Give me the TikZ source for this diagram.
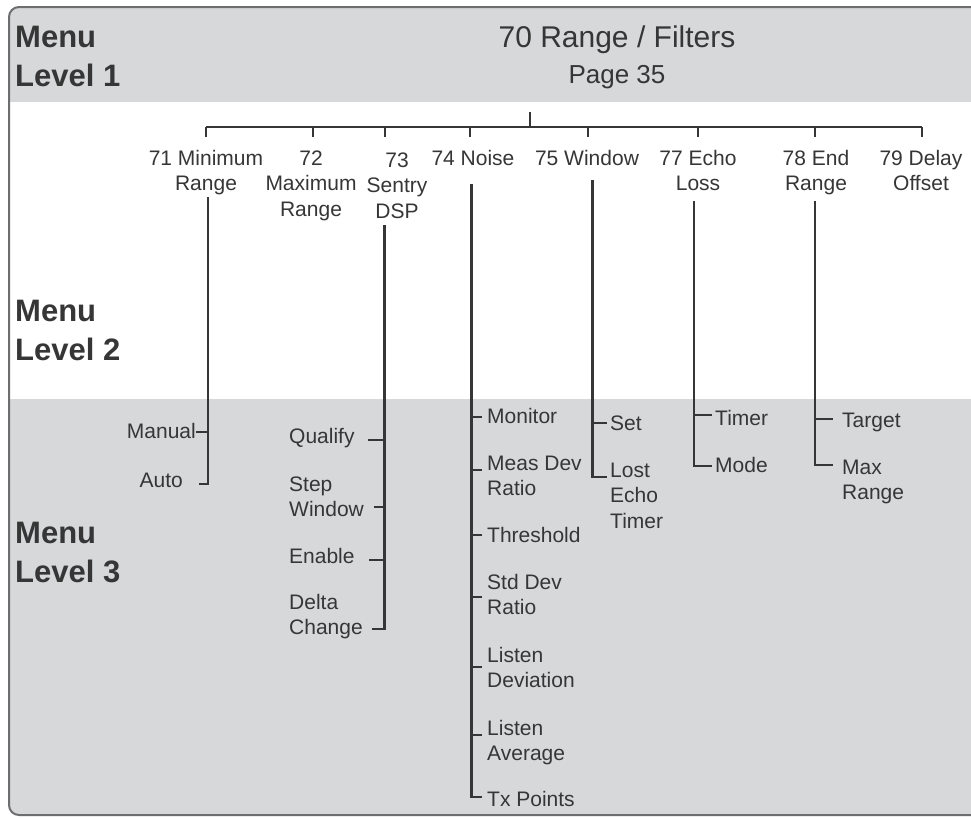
\documentclass[tikz,border=0pt]{standalone}
\usepackage{fontspec}
\setmainfont{Liberation Sans}
\definecolor{band}{HTML}{D7D8DA}
\definecolor{ink}{HTML}{363636}
\definecolor{framec}{HTML}{6E6E70}
\begin{document}
\begin{tikzpicture}[x=1pt,y=-1pt,
  lvl/.style={font=\fontsize{31}{39}\selectfont\bfseries, text=ink, anchor=base west, inner sep=0pt, align=left},
  lab/.style={font=\fontsize{21}{25.5}\selectfont, text=ink, inner sep=0pt, align=center, anchor=base},
  leaf/.style={font=\fontsize{21}{25.5}\selectfont, text=ink, inner sep=0pt, align=left, anchor=base west},
  leafr/.style={leaf, anchor=base east, align=right},
  wire/.style={draw=ink, line width=2.4pt},
]
\useasboundingbox (0,0) rectangle (971,817);
\clip (0,0) rectangle (971,817);
\fill[white] (0,0) rectangle (971,817);
% bands
\begin{scope}
  \clip[rounded corners=10pt] (9,7) rectangle (995,815);
  \fill[band] (9,7) rectangle (995,102);
  \fill[band] (9,399) rectangle (995,815);
\end{scope}
\draw[framec, line width=2pt, rounded corners=10pt] (9,7) rectangle (995,815);

% level labels (base = last line)
\node[lvl] (m1) at (15,86) {Menu\\Level 1};
\node[lvl] (m2) at (15,360) {Menu\\Level 2};
\node[lvl] (m3) at (15,582) {Menu\\Level 3};

% title
\node[text=ink, inner sep=0pt, anchor=base, font=\fontsize{30}{36}\selectfont] (title) at (617,47) {70 Range / Filters};
\node[text=ink, inner sep=0pt, anchor=base, font=\fontsize{26}{30}\selectfont] (page) at (617,83) {Page 35};

% top tree
\coordinate (root) at (530,112);
\coordinate (bar) at (530,127);
\foreach \n/\x in {a/206,b/313,c/385,d/470,e/588,f/698,g/815,h/922}{
  \coordinate (d\n) at (\x,137);
}
\draw[wire] (root) -- (bar);
\draw[wire] (da |- bar) -- (dh |- bar);
\foreach \n in {a,b,c,d,e,f,g,h}{ \draw[wire] (d\n |- bar) -- (d\n); }

% level 2 labels (base = last line)
\node[lab] (n71) at (206,190.5) {71 Minimum\\Range};
\node[lab] (n72) at (311,216) {72\\Maximum\\Range};
\node[lab] (n73) at (397,218) {73\\Sentry\\DSP};
\node[lab] (n74) at (473,165) {74 Noise};
\node[lab] (n75) at (587,165) {75 Window};
\node[lab] (n77) at (698,190.5) {77 Echo\\Loss};
\node[lab] (n78) at (816,190.5) {78 End\\Range};
\node[lab] (n79) at (921,190.5) {79 Delay\\Offset};

% vertical stems
\coordinate (s71) at (208,197);
\coordinate (s73) at (384.5,225);
\coordinate (s74) at (471.5,184);
\coordinate (s75) at (592.5,180);
\coordinate (s77) at (694,201);
\coordinate (s78) at (815,201);

% level 3 labels (base = last line)
\node[leafr] (manual) at (196,438) {Manual};
\node[leafr] (auto) at (183,487) {Auto};

\node[leaf] (qualify) at (289,443) {Qualify};
\node[leaf] (stepw) at (289,516.5) {Step\\Window};
\node[leaf] (enable) at (289,563) {Enable};
\node[leaf] (delta) at (289,634.5) {Delta\\Change};

\node[leaf] (monitor) at (487,423) {Monitor};
\node[leaf] (measdev) at (487,495.5) {Meas Dev\\Ratio};
\node[leaf] (thresh) at (487,542) {Threshold};
\node[leaf] (stddev) at (487,614.5) {Std Dev\\Ratio};
\node[leaf] (listdev) at (487,687.5) {Listen\\Deviation};
\node[leaf] (listavg) at (487,760.5) {Listen\\Average};
\node[leaf] (txpts) at (487,806) {Tx Points};

\node[leaf] (set) at (610,430) {Set};
\node[leaf] (lost) at (610,528) {Lost\\Echo\\Timer};

\node[leaf] (timer) at (715,425) {Timer};
\node[leaf] (mode) at (715,472) {Mode};

\node[leaf] (target) at (842,427) {Target};
\node[leaf] (maxr) at (842,499.5) {Max\\Range};

% branches 71
\draw[wire] (s71) |- (199,484);
\draw[wire] (s71 |- 0,432) -- (196,432);
% branches 73
\draw[wire] (s73) |- (372,629);
\draw[wire] (s73 |- 0,440) -- (368,440);
\draw[wire] (s73 |- 0,507) -- (374,507);
\draw[wire] (s73 |- 0,560) -- (369,560);
% branches 74
\draw[wire] (s74) |- (482,797);
\foreach \y in {417,470,535,597,667,735}{ \draw[wire] (s74 |- 0,\y) -- (482,\y); }
% branches 75
\draw[wire] (s75) |- (607,477);
\draw[wire] (s75 |- 0,423) -- (607,423);
% branches 77
\draw[wire] (s77) |- (712,466);
\draw[wire] (s77 |- 0,415) -- (712,415);
% branches 78
\draw[wire] (s78) |- (833,465);
\draw[wire] (s78 |- 0,419) -- (833,419);
\end{tikzpicture}
\end{document}
